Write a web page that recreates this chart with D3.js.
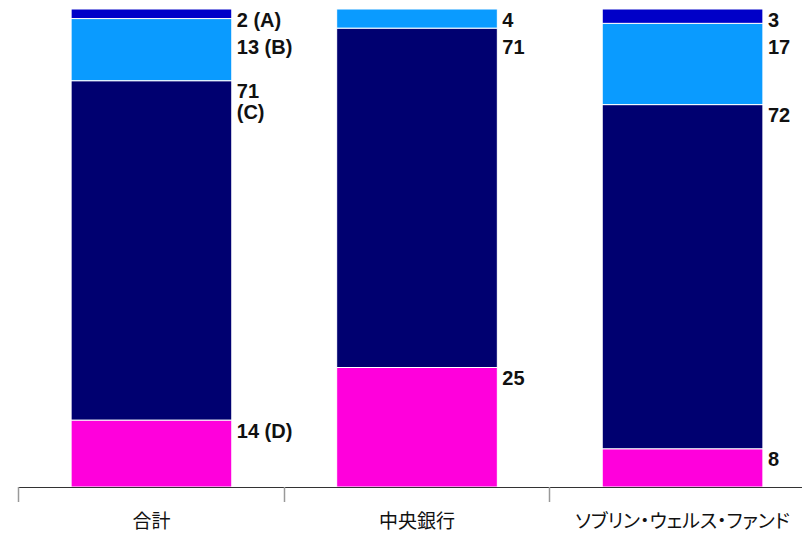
<!DOCTYPE html>
<html>
<head>
<meta charset="utf-8">
<script src="https://cdn.jsdelivr.net/npm/d3@7"></script>
<style>
  html, body { margin: 0; padding: 0; background: #fff; }
  svg { display: block; }
  .cat { font-feature-settings: "palt" 1; }
</style>
</head>
<body>
<svg id="chart" width="802" height="533"></svg>
<script>
// Categories along the x axis
const categories = ["合計", "中央銀行", "ソブリン・ウェルス・ファンド"];

// Stacked shares (%), listed bottom to top
const seriesD = [14, 25, 8];   // magenta (bottom)
const seriesC = [71, 71, 72];  // navy
const seriesB = [13, 4, 17];   // light blue
const seriesA = [2, 0, 3];     // dark blue (top)

// Letter notes attached to the first column's labels, and whether they wrap
const noteLetters = ["(D)", "(C)", "(B)", "(A)"];
const noteWrap = [false, true, false, false];

const seriesKeys = ["D", "C", "B", "A"];
const seriesValues = { D: seriesD, C: seriesC, B: seriesB, A: seriesA };
const colors = { D: "#ff00dc", C: "#000070", B: "#0a9bff", A: "#0000c8" };

const svg = d3.select("#chart");
const W = 802, H = 533;
const margin = { left: 18, right: -14, top: 9, bottom: 46 };

const rows = categories.map((c, i) => {
  const r = { category: c };
  seriesKeys.forEach(k => r[k] = seriesValues[k][i]);
  return r;
});

const layers = d3.stack().keys(seriesKeys)(rows);

const x = d3.scaleBand()
  .domain(categories)
  .range([margin.left, W - margin.right])
  .paddingInner(0.395)
  .paddingOuter(0.2);

const y = d3.scaleLinear()
  .domain([0, 100])
  .range([H - margin.bottom, margin.top]);

// Bars
const g = svg.append("g");
layers.forEach(layer => {
  g.selectAll(null)
    .data(layer)
    .join("rect")
    .attr("x", d => x(d.data.category))
    .attr("width", x.bandwidth())
    .attr("y", d => y(d[1]))
    .attr("height", d => Math.max(0, y(d[0]) - y(d[1])))
    .attr("fill", colors[layer.key])
    .attr("stroke", d => (d[1] - d[0]) > 0 ? "#fff" : "none")
    .attr("stroke-width", 1);
});

// Value labels at the top of each segment, pushed down when crowded
const fontSize = 20;
const minGap = 27;
const lineH = 21;
categories.forEach((c, ci) => {
  const segs = [];
  layers.forEach((layer, li) => {
    const d = layer[ci];
    const v = d[1] - d[0];
    if (v <= 0) return;
    let lines = [String(v)];
    if (ci === 0) {
      if (noteWrap[li]) lines.push(noteLetters[li]);
      else lines = [v + " " + noteLetters[li]];
    }
    segs.push({ top: y(d[1]), lines });
  });
  segs.sort((a, b) => a.top - b.top);
  let prev = -Infinity;
  segs.forEach(s => {
    const capTop = Math.max(s.top + 3, prev + minGap);
    prev = capTop + (s.lines.length - 1) * lineH;
    const lx = x(c) + x.bandwidth() + 5;
    const t = svg.append("text")
      .attr("x", lx)
      .attr("y", capTop + 14.5)
      .attr("font-family", "'Liberation Sans', Arial, sans-serif")
      .attr("font-weight", "bold")
      .attr("font-size", fontSize)
      .attr("fill", "#111");
    s.lines.forEach((ln, i) => {
      t.append("tspan")
        .attr("x", lx)
        .attr("dy", i === 0 ? 0 : lineH)
        .text(ln);
    });
  });
});

// X axis: baseline, boundary ticks and category names
const axisY = y(0);
svg.append("line")
  .attr("x1", margin.left).attr("x2", W)
  .attr("y1", axisY + 0.5).attr("y2", axisY + 0.5)
  .attr("stroke", "#333").attr("stroke-width", 1);

const step = x.step();
const x0 = x(categories[0]) - x.paddingOuter() * step;
categories.forEach((c, i) => {
  const tx = Math.round(x0 + i * step) + 0.5;
  svg.append("line")
    .attr("x1", tx).attr("x2", tx)
    .attr("y1", axisY).attr("y2", axisY + 15)
    .attr("stroke", "#999").attr("stroke-width", 1.5);
  svg.append("text")
    .attr("class", "cat")
    .attr("x", x(c) + x.bandwidth() / 2)
    .attr("y", axisY + 41)
    .attr("text-anchor", "middle")
    .attr("font-family", "'Noto Sans CJK JP', sans-serif")
    .attr("font-size", 19)
    .attr("fill", "#111")
    .text(c);
});
</script>
</body>
</html>
